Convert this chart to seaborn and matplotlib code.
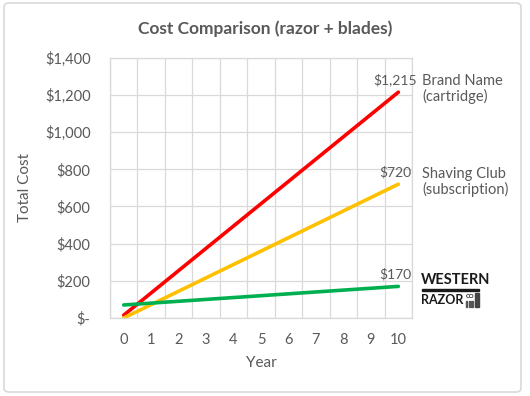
import numpy as np
import pandas as pd
import matplotlib
matplotlib.use("Agg")
import matplotlib.pyplot as plt
import seaborn as sns
from matplotlib.patches import FancyBboxPatch

years = list(range(11))
brand_name = [15, 135, 255, 375, 495, 615, 735, 855, 975, 1095, 1215]
shaving_club = [0, 72, 144, 216, 288, 360, 432, 504, 576, 648, 720]
western_razor = [70, 80, 90, 100, 110, 120, 130, 140, 150, 160, 170]
series_names = ["Brand Name\n(cartridge)", "Shaving Club\n(subscription)", "Western Razor"]
colors = ["#FF0000", "#FFC000", "#00B050"]
y_ticks = [0, 200, 400, 600, 800, 1000, 1200, 1400]

df = pd.DataFrame({
    "Year": years * 3,
    "Cost": brand_name + shaving_club + western_razor,
    "Series": [series_names[0]] * 11 + [series_names[1]] * 11 + [series_names[2]] * 11,
})

sns.set_style("white")
plt.rcParams["font.family"] = ["Lato", "DejaVu Sans"]
text_color = "#595959"
grid_color = "#D9D9D9"

W, H = 530, 396
fig = plt.figure(figsize=(5.3, 3.96), dpi=100)
ax = fig.add_axes([0.2075, 0.197, 0.570, 0.657])

sns.lineplot(data=df, x="Year", y="Cost", hue="Series", palette=colors,
             linewidth=2.6, legend=False, ax=ax)

ax.set_xlim(-0.5, 10.5)
ax.set_ylim(0, 1400)
ax.set_xticks(years)
ax.set_xticks(np.arange(-0.5, 11, 1), minor=True)
ax.set_yticks(y_ticks)
ax.set_yticklabels(["$-" if v == 0 else f"${v:,}" for v in y_ticks])
ax.grid(True, which="minor", axis="x", color=grid_color, linewidth=0.9)
ax.grid(True, which="major", axis="y", color=grid_color, linewidth=0.9)
ax.set_axisbelow(True)
ax.tick_params(which="both", length=0, labelsize=10.5, colors=text_color)
ax.tick_params(axis="x", pad=11)
ax.tick_params(axis="y", pad=14)
for sp in ax.spines.values():
    sp.set_color(grid_color)
    sp.set_linewidth(0.9)

ax.set_xlabel("Year", fontsize=11, color=text_color, labelpad=6)
ax.set_ylabel("Total Cost", fontsize=11, color=text_color, labelpad=9)
fig.suptitle("Cost Comparison (razor + blades)", x=0.5, y=0.948,
             fontsize=12.5, fontweight="bold", color=text_color)

# end value labels
for vals in [brand_name, shaving_club, western_razor]:
    ax.annotate(f"${vals[-1]:,}", (years[-1], vals[-1]), xytext=(-2, 4),
                textcoords="offset points", ha="center", va="bottom",
                fontsize=10, color=text_color)

# right-side labels
fig.text(422 / W, 1 - 89 / H, series_names[0], fontsize=10.5, color=text_color,
         va="center", ha="left", linespacing=1.1)
fig.text(422 / W, 1 - 182 / H, series_names[1], fontsize=10.5, color=text_color,
         va="center", ha="left", linespacing=1.1)

# logo
logo = "#1a1a1a"
fig.text(421 / W, 1 - 280 / H, "WESTERN", fontsize=10.5, fontweight="bold",
         family="Lato", color=logo, va="center", ha="left")
fig.add_artist(plt.Rectangle((422 / W, 1 - 290.5 / H), 57 / W, 1.2 / H,
                             color=logo, transform=fig.transFigure))
fig.text(421 / W, 1 - 300.5 / H, "RAZOR", fontsize=9, fontweight="bold",
         family="Lato", color=logo, va="center", ha="left")
fig.text(466 / W, 1 - 296 / H, "CO", fontsize=4.2, fontweight="bold",
         family="Lato", color=logo, va="center", ha="left")
for i in range(3):
    fig.add_artist(plt.Rectangle(((466 + 2.6 * i) / W, 1 - 307 / H), 1.4 / W, 6.5 / H,
                                 color="#555555", transform=fig.transFigure))
fig.add_artist(plt.Rectangle((474.5 / W, 1 - 307 / H), 4.5 / W, 14 / H,
                             color="#444444", transform=fig.transFigure))

# chart border
fig.add_artist(FancyBboxPatch((4 / W, 4 / H), 517 / W, 389 / H,
                              boxstyle="round,pad=0,rounding_size=0.01",
                              transform=fig.transFigure, fill=False,
                              edgecolor="#D9D9D9", linewidth=1.2))

fig.savefig("out.png", dpi=100)
